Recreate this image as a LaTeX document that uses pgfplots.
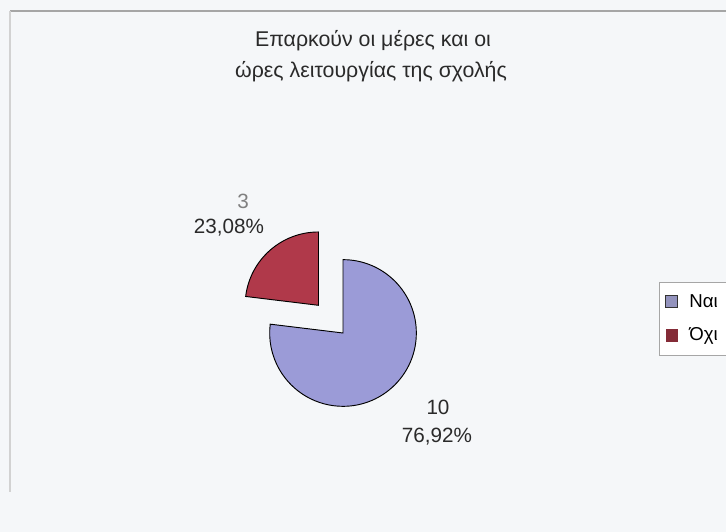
\documentclass[border=0pt]{standalone}
\usepackage{pgfplots}
\pgfplotsset{compat=1.18}
\usepackage{pgfplotstable}
\usepackage{fontspec}
\setmainfont{Liberation Sans}
\definecolor{nai}{HTML}{9B9BD7}
\definecolor{oxi}{HTML}{B0394A}
\definecolor{bg}{HTML}{F5F7F9}
\definecolor{txt}{HTML}{2A2A2A}
\pgfplotstableread{
label value
Nai 10
Oxi 3
}\piedata
\begin{document}
\begin{tikzpicture}
\pgfplotstablegetelem{0}{value}\of\piedata \let\vA\pgfplotsretval
\pgfplotstablegetelem{1}{value}\of\piedata \let\vB\pgfplotsretval
\pgfmathsetmacro\tot{\vA+\vB}
\pgfmathsetmacro\angA{360*\vA/\tot}
\pgfmathsetmacro\endA{90-\angA}
\pgfmathsetmacro\midB{(\endA-270)/2}
\begin{axis}[name=ax, scale only axis, width=544.5pt, height=399pt,
  xmin=0, xmax=726, ymin=0, ymax=532, hide axis, clip=false,
  legend style={at={(axis cs:659,250)}, anchor=north west, draw=gray!70, fill=white,
    font=\fontsize{14}{16}\selectfont, row sep=10pt, inner xsep=5pt, inner ysep=7pt,
    /tikz/every odd column/.append style={column sep=7pt}},
  legend cell align=left]
\fill[bg] (axis cs:0,0) rectangle (axis cs:726,532);
\draw[gray!70, line width=1pt] (axis cs:10,521) -- (axis cs:726,521);
\draw[gray!35, line width=1pt] (axis cs:10,521) -- (axis cs:10,40);
\addlegendimage{only marks, mark=square*, mark size=4.3pt, mark options={fill=nai!70!gray, draw=black!80, line width=0.8pt}}
\addlegendentry{\makebox[40pt][l]{Ναι}}
\addlegendimage{only marks, mark=square*, mark size=4.3pt, mark options={fill=oxi!75!black, draw=oxi!75!black}}
\addlegendentry{\makebox[40pt][l]{Όχι}}
\filldraw[fill=nai, draw=black, line width=0.7pt] (axis cs:343,199) -- ++(90:55pt)
  arc[start angle=90, end angle=\endA, radius=55pt] -- cycle;
\filldraw[fill=oxi, draw=black, line width=0.7pt] (axis cs:343,199) ++(\midB:27.75pt) -- ++(\endA:55pt)
  arc[start angle=\endA, end angle=-270, radius=55pt] -- cycle;
\node[font=\fontsize{16}{18}\selectfont, text=txt] at (axis cs:373,491) {Επαρκούν οι μέρες και οι};
\node[font=\fontsize{16}{18}\selectfont, text=txt] at (axis cs:371,460) {ώρες λειτουργίας της σχολής};
\node[font=\fontsize{15.5}{18}\selectfont, text=gray] at (axis cs:243,331) {3};
\node[font=\fontsize{15.5}{18}\selectfont, text=txt] at (axis cs:229,304) {23,08\%};
\node[font=\fontsize{15.5}{18}\selectfont, text=txt] at (axis cs:438,125) {10};
\node[font=\fontsize{15.5}{18}\selectfont, text=txt] at (axis cs:437,95) {76,92\%};
\end{axis}
\pgfresetboundingbox
\path[use as bounding box] (ax.south west) rectangle (ax.north east);
\end{tikzpicture}
\end{document}
